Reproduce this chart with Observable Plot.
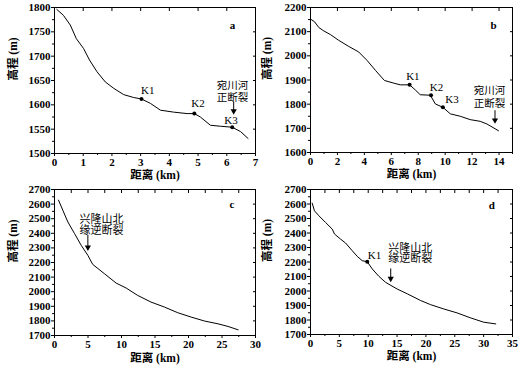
<!DOCTYPE html>
<html><head><meta charset="utf-8">
<script src="https://cdn.jsdelivr.net/npm/d3@7"></script>
<script src="https://cdn.jsdelivr.net/npm/@observablehq/plot@0.6"></script>
<style>
body{margin:0;background:#fff;}
#wrap{position:relative;width:521px;height:365px;overflow:hidden;background:#fff;}
.panel{position:absolute;}
.panel svg{overflow:visible;}
</style></head><body><div id="wrap"></div>
<script>
// ---- Panel a ----
const aDist = [0.08,0.31,0.55,0.76,1.01,1.22,1.48,1.77,2.06,2.41,2.76,3.03,3.34,3.69,4.15,4.62,4.87,5.08,5.43,5.78,6.19,6.48,6.74];
const aElev = [1796,1784,1764,1736,1716,1692,1668,1647,1634,1621,1615,1612,1603,1589,1585,1582,1582,1575,1558,1556,1554,1545,1531];
const aKNames = ["K1","K2","K3"];
const aKDist = [3.03,4.87,6.19];
const aKElev = [1612,1582,1554];
const aKLabelDist = [3.25,5.0,6.15];
const aKLabelElev = [1630,1603,1568];
// ---- Panel b ----
const bDist = [0,0.30,0.62,0.99,1.48,2.10,2.84,3.58,4.20,4.82,5.49,6.18,6.67,7.36,7.78,8.15,8.90,9.27,9.83,10.38,11.12,11.86,12.60,13.10,13.96];
const bElev = [2152,2141,2117,2103,2088,2064,2039,2016,1981,1940,1898,1887,1880,1880,1859,1839,1837,1801,1787,1760,1750,1736,1729,1718,1690];
const bKNames = ["K1","K2","K3"];
const bKDist = [7.36,8.95,9.83];
const bKElev = [1880,1837,1787];
const bKLabelDist = [7.6,9.35,10.5];
const bKLabelElev = [1915,1868,1819];
// ---- Panel c ----
const cDist = [0.6,1.24,1.99,2.99,3.98,4.98,5.7,7.46,9.2,10.7,12.4,14.4,16.4,18.4,20.4,22.4,24.4,25.9,27.4];
const cElev = [2627,2558,2478,2398,2318,2249,2187,2123,2059,2025,1975,1929,1895,1856,1826,1799,1780,1762,1739];
// ---- Panel d ----
const dDist = [0.29,0.69,1.45,2.6,3.76,4.16,5.2,6.07,7.23,8.1,8.96,9.83,10.7,11.85,13.0,15.0,16.8,19.1,20.8,23.1,25.4,27.7,30.0,32.1];
const dElev = [2606,2553,2519,2473,2427,2393,2358,2331,2278,2239,2209,2202,2152,2101,2060,2014,1980,1934,1906,1876,1849,1815,1785,1773];
const dKNames = ["K1"];
const dKDist = [9.83];
const dKElev = [2202];
const dKLabelDist = [11.1];
const dKLabelElev = [2244];
// ---- annotations ----
const faultAB = ["宛川河","正断裂"];
const faultCD = ["兴隆山北","缘逆断裂"];
const xTitle = "距离 (km)";
const yTitle = "高程 (m)";
const letters = ["a","b","c","d"];

const FONT = "'Liberation Serif','Times New Roman','Noto Sans CJK SC',serif";
const range = (a,b,s) => d3.range(a, b + s/2, s);

function panel(o) {
  const pts = o.dist.map((d,i) => ({d, e: o.elev[i]}));
  const kp = (o.kNames||[]).map((n,i) => ({n, d:o.kDist[i], e:o.kElev[i], ld:o.kLD[i], le:o.kLE[i]}));
  const notes = o.noteText.map((t,i) => ({t, d:o.noteD, e:o.noteE[i]}));
  return Plot.plot({
    width: o.width, height: o.height,
    marginLeft: o.m[0], marginRight: o.m[1], marginTop: o.m[2], marginBottom: o.m[3],
    x: {domain: o.xDomain}, y: {domain: o.yDomain},
    style: {fontFamily: FONT, fontSize: "11px", fontWeight: "bold", color: "#000", background: "transparent", overflow: "visible"},
    marks: [
      Plot.frame({stroke: "#000", strokeWidth: 1}),
      Plot.axisX({ticks: o.xMajor, tickSize: 3, tickPadding: 2, tickFormat: d => String(d), label: null}),
      Plot.axisX({ticks: o.xMinor, tickSize: 2, text: null, label: null}),
      Plot.axisX({anchor: "top", ticks: o.xTop, tickSize: -3, text: null, label: null}),
      Plot.axisY({ticks: o.yMajor, tickSize: 3, tickPadding: 1, tickFormat: d => String(d), label: null}),
      Plot.axisY({ticks: o.yMinor, tickSize: 2, text: null, label: null}),
      Plot.axisY({anchor: "right", ticks: o.yMajor, tickSize: -3, text: null, label: null}),
      Plot.line(pts, {x: "d", y: "e", stroke: "#000", strokeWidth: 1}),
      Plot.dot(kp, {x: "d", y: "e", r: 2, fill: "#000", stroke: null}),
      Plot.text(kp, {x: "ld", y: "le", text: "n", fontSize: 11, fontWeight: "normal"}),
      Plot.text(notes, {x: "d", y: "e", text: "t", fontSize: o.noteSize, fontWeight: "normal"}),
      Plot.ruleX([o.arrowD], {y1: o.arrowE[0], y2: o.arrowE[1], stroke: "#000", strokeWidth: 1}),
      Plot.dot([o.arrowD], {x: d => d, y: () => o.arrowE[1], symbol: "triangle", rotate: 180, r: 2.3, fill: "#000", stroke: null, dy: -2}),
      Plot.text([o.letter], {x: () => o.letterPos[0], y: () => o.letterPos[1], text: d => d, fontSize: 11, fontWeight: "bold"}),
      Plot.text([xTitle], {frameAnchor: "bottom", lineAnchor: "middle", dy: o.xTitleDy, text: d => d, fontSize: 11.5, fontWeight: "bold"}),
      Plot.text([yTitle], {frameAnchor: "left", lineAnchor: "middle", dx: o.yTitleDx, rotate: -90, text: d => d, fontSize: 11.5, fontWeight: "bold"})
    ]
  });
}

const specs = [
  {left: 0, top: 0, width: 260, height: 180, m: [54, 5, 7, 27],
   dist: aDist, elev: aElev, xDomain: [0,7], yDomain: [1500,1800],
   xMajor: range(0,7,1), xMinor: range(0.5,6.5,1), xTop: range(1,6,1),
   yMajor: range(1500,1800,50), yMinor: range(1525,1775,50),
   kNames: aKNames, kDist: aKDist, kElev: aKElev, kLD: aKLabelDist, kLE: aKLabelElev,
   noteText: faultAB, noteD: 6.2, noteE: [1640,1614], noteSize: 10.5,
   arrowD: 6.24, arrowE: [1606,1583], letter: letters[0], letterPos: [6.2,1764],
   xTitleDy: 21.5, yTitleDx: -41},
  {left: 260, top: 0, width: 261, height: 180, m: [50, 9, 7, 28],
   dist: bDist, elev: bElev, xDomain: [0,15], yDomain: [1600,2200],
   xMajor: range(0,14,2), xMinor: range(1,15,2), xTop: range(2,14,2),
   yMajor: range(1600,2200,100), yMinor: range(1650,2150,100),
   kNames: bKNames, kDist: bKDist, kElev: bKElev, kLD: bKLabelDist, kLE: bKLabelElev,
   noteText: faultAB, noteD: 13.3, noteE: [1857,1804], noteSize: 10.5,
   arrowD: 13.7, arrowE: [1773,1725], letter: letters[1], letterPos: [13.6,2127],
   xTitleDy: 21.5, yTitleDx: -43},
  {left: 0, top: 180, width: 260, height: 185, m: [54, 5, 9, 30],
   dist: cDist, elev: cElev, xDomain: [0,30], yDomain: [1700,2700],
   xMajor: range(0,30,5), xMinor: range(2.5,27.5,5), xTop: range(2.5,27.5,2.5),
   yMajor: range(1700,2700,100), yMinor: range(1750,2650,100),
   kNames: [], kDist: [], kElev: [], kLD: [], kLE: [],
   noteText: faultCD, noteD: 7.0, noteE: [2494,2421], noteSize: 11,
   arrowD: 4.98, arrowE: [2386,2290], letter: letters[2], letterPos: [26.5,2597],
   xTitleDy: 23, yTitleDx: -41},
  {left: 260, top: 180, width: 261, height: 185, m: [50, 9, 9, 31],
   dist: dDist, elev: dElev, xDomain: [0,35], yDomain: [1700,2700],
   xMajor: range(0,35,5), xMinor: range(2.5,32.5,5), xTop: range(2.5,32.5,2.5),
   yMajor: range(1700,2700,100), yMinor: range(1750,2650,100),
   kNames: dKNames, kDist: dKDist, kElev: dKElev, kLD: dKLabelDist, kLE: dKLabelElev,
   noteText: faultCD, noteD: 17.3, noteE: [2294,2221], noteSize: 11,
   arrowD: 13.9, arrowE: [2152,2072], letter: letters[3], letterPos: [31.4,2592],
   xTitleDy: 21.5, yTitleDx: -43}
];

const wrap = document.getElementById("wrap");
for (const s of specs) {
  const div = document.createElement("div");
  div.className = "panel";
  div.style.left = s.left + "px";
  div.style.top = s.top + "px";
  div.appendChild(panel(s));
  wrap.appendChild(div);
}
</script></body></html>
